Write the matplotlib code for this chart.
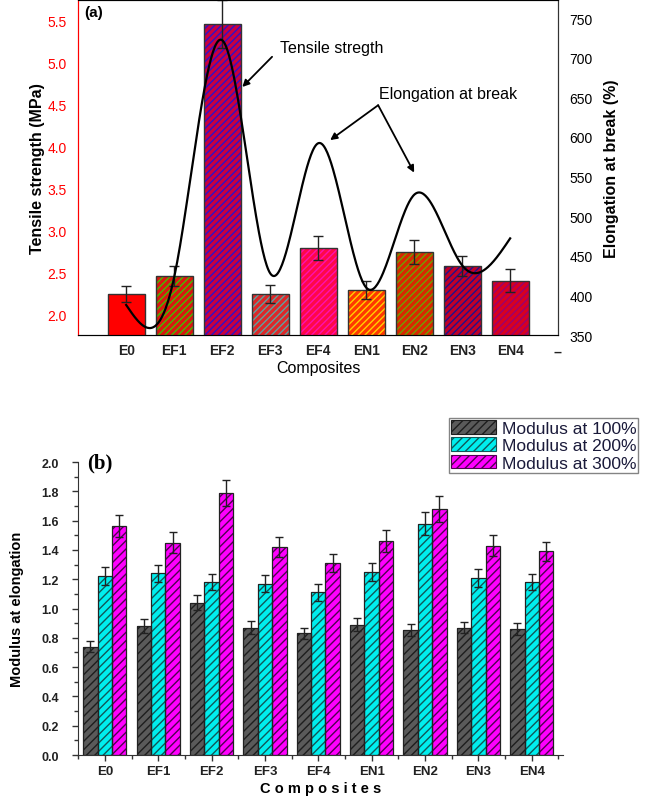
import numpy as np
import matplotlib
matplotlib.use("Agg")
import matplotlib.pyplot as plt

plt.rcParams['font.family'] = ['Liberation Sans', 'DejaVu Sans']
plt.rcParams['hatch.linewidth'] = 1.0

# ---- panel (a) data ----
comp_a = ['E0', 'EF1', 'EF2', 'EF3', 'EF4', 'EN1', 'EN2', 'EN3', 'EN4']
tensile = [2.24, 2.45, 5.46, 2.24, 2.79, 2.29, 2.74, 2.57, 2.40]
tensile_err = [0.10, 0.12, 0.29, 0.11, 0.14, 0.11, 0.14, 0.12, 0.14]
elongation = [388, 423, 722, 428, 592, 410, 527, 438, 472]
face_a = ['#ff0000', '#d81810', '#c80040', '#dc2828', '#ff0848', '#ff3800', '#d82800', '#c00028', '#d80020']
hatch_a = [None, '#40c000', '#3010c8', '#60a0a0', '#ff10b0', '#ffd000', '#70a000', '#20108c', '#9a0070']

# ---- panel (b) data ----
comp_b = ['E0', 'EF1', 'EF2', 'EF3', 'EF4', 'EN1', 'EN2', 'EN3', 'EN4']
mod100 = [0.74, 0.88, 1.04, 0.87, 0.83, 0.89, 0.85, 0.87, 0.86]
mod200 = [1.22, 1.24, 1.18, 1.17, 1.11, 1.25, 1.58, 1.21, 1.18]
mod300 = [1.56, 1.45, 1.79, 1.42, 1.31, 1.46, 1.68, 1.43, 1.39]
err100 = [0.04, 0.045, 0.05, 0.043, 0.04, 0.044, 0.041, 0.04, 0.041]
err200 = [0.06, 0.06, 0.057, 0.06, 0.057, 0.06, 0.08, 0.062, 0.057]
err300 = [0.075, 0.07, 0.09, 0.068, 0.062, 0.077, 0.087, 0.073, 0.067]
labels_b = ['Modulus at 100%', 'Modulus at 200%', 'Modulus at 300%']


def natural_spline(x, y, xs):
    x = np.asarray(x, float); y = np.asarray(y, float)
    n = len(x)
    h = np.diff(x)
    A = np.zeros((n, n)); r = np.zeros(n)
    A[0, 0] = 1; A[-1, -1] = 1
    for i in range(1, n - 1):
        A[i, i - 1] = h[i - 1]; A[i, i] = 2 * (h[i - 1] + h[i]); A[i, i + 1] = h[i]
        r[i] = 6 * ((y[i + 1] - y[i]) / h[i] - (y[i] - y[i - 1]) / h[i - 1])
    M = np.linalg.solve(A, r)
    idx = np.clip(np.searchsorted(x, xs) - 1, 0, n - 2)
    t0 = x[idx]; t1 = x[idx + 1]; hh = t1 - t0
    return (M[idx] * (t1 - xs) ** 3 / (6 * hh) + M[idx + 1] * (xs - t0) ** 3 / (6 * hh)
            + (y[idx] / hh - M[idx] * hh / 6) * (t1 - xs) + (y[idx + 1] / hh - M[idx + 1] * hh / 6) * (xs - t0))


fig = plt.figure(figsize=(6.46, 8.04), dpi=100)

# ================= (a) =================
ax = fig.add_axes([0.121, 0.582, 0.743, 0.417])
xa = np.arange(len(comp_a))
for i in range(len(comp_a)):
    if hatch_a[i] is None:
        ax.bar(xa[i], tensile[i], 0.77, bottom=0, color=face_a[i], edgecolor='none', zorder=2)
    else:
        ax.bar(xa[i], tensile[i], 0.77, bottom=0, color=face_a[i], edgecolor=hatch_a[i],
               hatch='/////', linewidth=0, zorder=2)
    ax.bar(xa[i], tensile[i], 0.77, bottom=0, fill=False, edgecolor='#333333', linewidth=1.0, zorder=3)
ax.errorbar(xa, tensile, yerr=tensile_err, fmt='none', ecolor='#222222', elinewidth=1.0,
            capsize=3.5, capthick=1.0, zorder=4)
ax.set_xlim(-1, 9)
ax.set_ylim(1.75, 5.75)
ax.set_xticks(list(xa) + [9])
ax.set_xticklabels(comp_a + ['--'], fontsize=10, fontweight='bold', color='#222222')
ax.set_yticks([2.0, 2.5, 3.0, 3.5, 4.0, 4.5, 5.0, 5.5])
ax.tick_params(axis='y', colors='red', labelsize=10, length=0, pad=8)
ax.tick_params(axis='x', length=0, pad=6)
ax.spines['left'].set_color('red')
for s in ['top', 'right', 'bottom']:
    ax.spines[s].set_color('#333333')
ax.set_ylabel('Tensile strength (MPa)', fontsize=11.5, fontweight='bold', labelpad=2)
ax.set_xlabel('Composites', fontsize=11.5, labelpad=2)
ax.text(0.012, 0.985, '(a)', transform=ax.transAxes, fontsize=11, fontweight='bold', va='top')

ax2 = ax.twinx()
ax2.set_ylim(350, 773)
ax2.set_yticks([350, 400, 450, 500, 550, 600, 650, 700, 750])
ax2.tick_params(axis='y', length=0, labelsize=10, pad=8)
ax2.spines['left'].set_color('red')
ax2.spines['right'].set_color('#333333')
xs = np.linspace(0, 8, 400)
ax2.plot(xs, natural_spline(xa, elongation, xs), color='black', lw=1.6, zorder=5)
ax2.set_ylabel('Elongation at break (%)', fontsize=11.5, fontweight='bold', labelpad=8)

ax.annotate('', xy=(2.42, 4.71), xytext=(3.04, 5.07),
            arrowprops=dict(arrowstyle='-|>', color='black', lw=1.3, shrinkA=0, shrinkB=0), zorder=6)
ax.text(3.2, 5.18, 'Tensile stregth', fontsize=11.5, va='center', zorder=6)
ax2.text(5.27, 655, 'Elongation at break', fontsize=11.5, va='center')
ax2.annotate('', xy=(4.25, 596), xytext=(5.25, 640),
             arrowprops=dict(arrowstyle='-|>', color='black', lw=1.3, shrinkA=0, shrinkB=0))
ax2.annotate('', xy=(6.0, 555), xytext=(5.25, 640),
             arrowprops=dict(arrowstyle='-|>', color='black', lw=1.3, shrinkA=0, shrinkB=0))

# ================= (b) =================
bx = fig.add_axes([0.121, 0.0597, 0.750, 0.3644])
xb = np.arange(len(comp_b))
bw = 0.27
series = [(mod100, err100, '#5a5a5a', '#1e1e1e'),
          (mod200, err200, '#00eeee', '#105858'),
          (mod300, err300, '#ff00ff', '#500050')]
handles = []
for k, (vals, errs, fc, hc) in enumerate(series):
    pos = xb + (k - 1) * bw
    h = bx.bar(pos, vals, bw, color=fc, edgecolor=hc, hatch='////', linewidth=0, zorder=2)
    bx.bar(pos, vals, bw, fill=False, edgecolor='#222222', linewidth=0.9, zorder=3)
    bx.errorbar(pos, vals, yerr=errs, fmt='none', ecolor='#222222', elinewidth=1.0,
                capsize=3, capthick=1.0, zorder=4)
    handles.append(h)

bx.set_xlim(-0.5, 8.58)
bx.set_ylim(0, 2.0)
bx.spines['top'].set_visible(False)
bx.spines['right'].set_visible(False)
bx.spines['left'].set_color('#333333')
bx.spines['bottom'].set_color('#333333')
bx.set_yticks(np.arange(0, 2.01, 0.2))
bx.set_yticklabels(['%.1f' % v for v in np.arange(0, 2.01, 0.2)], fontsize=9, fontweight='bold')
bx.set_yticks(np.arange(0.1, 2.0, 0.2), minor=True)
bx.set_xticks(xb)
bx.set_xticklabels(comp_b, fontsize=9.5, fontweight='bold')
bx.set_xticks(np.arange(-0.5, 8.6, 1.0), minor=True)
bx.tick_params(axis='both', which='major', direction='out', length=4, width=1, colors='#333333')
bx.tick_params(axis='both', which='minor', direction='out', length=3, width=1, colors='#333333')
bx.tick_params(axis='x', which='major', length=4, pad=3, labelcolor='#222222')
bx.tick_params(axis='y', which='major', pad=10, labelcolor='#222222')
bx.set_ylabel('Modulus at elongation', fontsize=10.5, fontweight='bold', labelpad=12)
bx.set_xlabel('C o m p o s i t e s', fontsize=10.5, fontweight='bold', labelpad=3)
fig.text(0.135, 0.424, '(b)', fontsize=15, fontweight='bold', family='Liberation Serif', va='center')

leg = fig.legend(handles, labels_b, loc='upper right', bbox_to_anchor=(0.988, 0.479),
                 fontsize=12.5, frameon=True, fancybox=False, edgecolor='#666666',
                 handlelength=2.6, handleheight=0.85, labelspacing=0.08, borderpad=0.12,
                 handletextpad=0.3, borderaxespad=0)
for t in leg.get_texts():
    t.set_color('#1a1a3a')
for p in leg.get_patches():
    p.set_linewidth(0.8)

fig.savefig('out.png', dpi=100)
